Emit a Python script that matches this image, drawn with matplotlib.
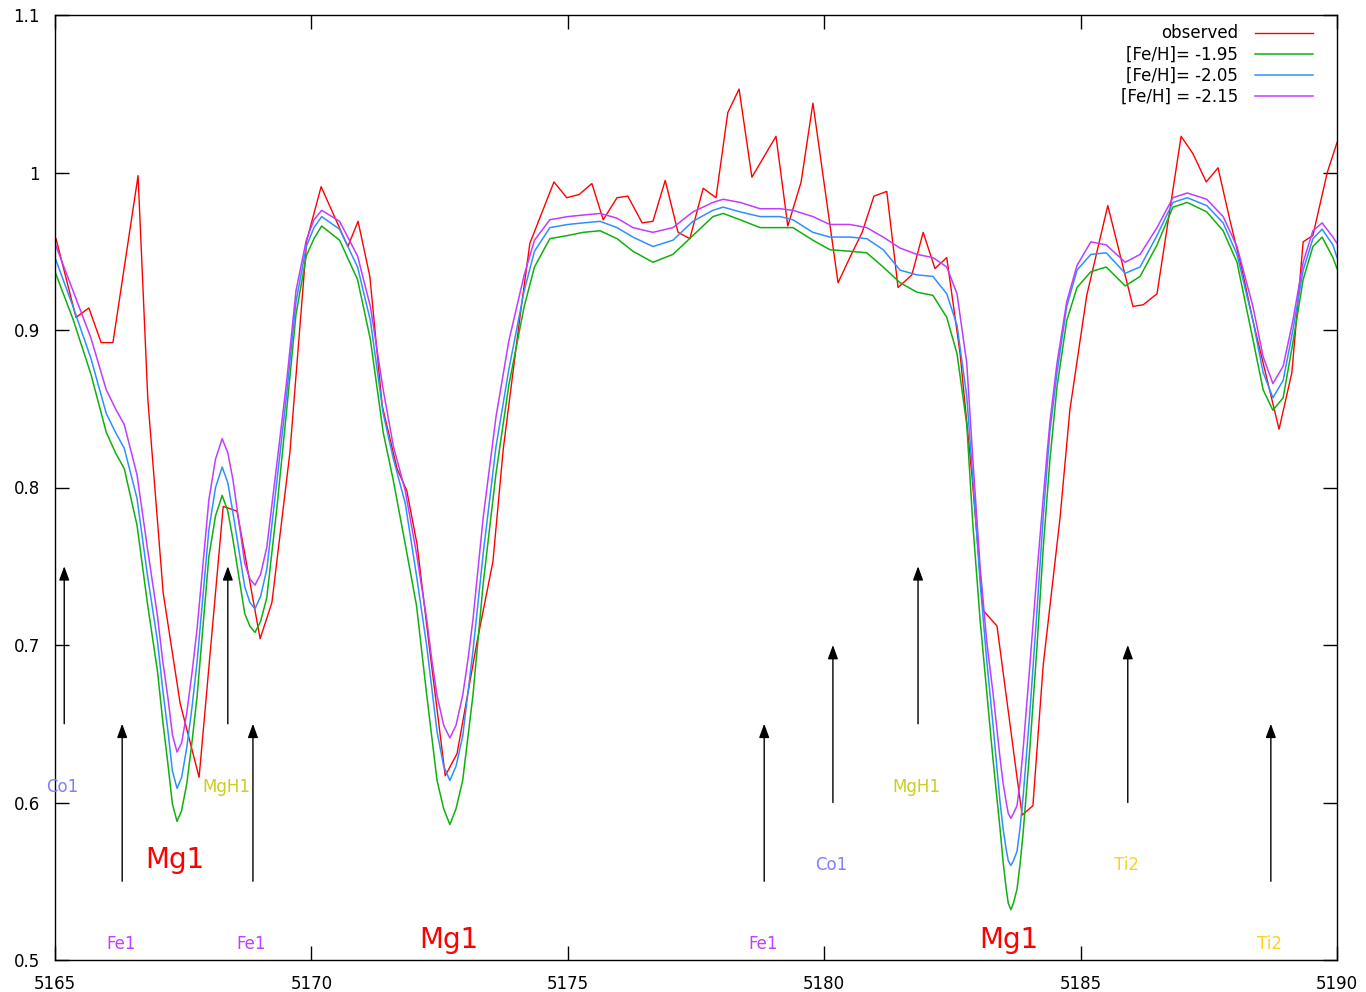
import matplotlib
matplotlib.use("Agg")
import matplotlib.pyplot as plt

# ---------------- data ----------------
obs_wave = [5165.02, 5165.41, 5165.66, 5165.90, 5166.13, 5166.62, 5166.81, 5167.11, 5167.44, 5167.81,
            5168.28, 5168.55, 5169.00, 5169.23, 5169.58, 5169.91, 5170.19, 5170.71, 5170.91, 5171.14,
            5171.38, 5171.67, 5171.86, 5172.06, 5172.31, 5172.61, 5172.84, 5173.23, 5173.54, 5173.74,
            5174.07, 5174.26, 5174.73, 5174.98, 5175.22, 5175.47, 5175.69, 5175.96, 5176.17, 5176.45,
            5176.66, 5176.90, 5177.15, 5177.38, 5177.64, 5177.89, 5178.12, 5178.34, 5178.59, 5179.06,
            5179.29, 5179.55, 5179.78, 5180.27, 5180.50, 5180.74, 5180.97, 5181.22, 5181.44, 5181.71,
            5181.93, 5182.16, 5182.39, 5182.65, 5182.88, 5183.10, 5183.37, 5183.76, 5183.86, 5184.07,
            5184.27, 5184.60, 5184.79, 5185.12, 5185.53, 5186.02, 5186.22, 5186.49, 5186.96, 5187.19,
            5187.45, 5187.68, 5187.91, 5188.15, 5188.36, 5188.87, 5189.12, 5189.34, 5189.53, 5189.81,
            5190.00]
obs_flux = [0.958, 0.908, 0.914, 0.892, 0.892, 0.998, 0.856, 0.733, 0.663, 0.616,
            0.788, 0.785, 0.704, 0.727, 0.822, 0.957, 0.991, 0.953, 0.969, 0.934,
            0.852, 0.812, 0.798, 0.764, 0.696, 0.617, 0.631, 0.702, 0.753, 0.824,
            0.909, 0.955, 0.994, 0.984, 0.986, 0.993, 0.970, 0.984, 0.985, 0.968,
            0.969, 0.995, 0.962, 0.958, 0.990, 0.984, 1.038, 1.053, 0.997, 1.023,
            0.966, 0.994, 1.044, 0.930, 0.946, 0.962, 0.985, 0.988, 0.927, 0.935,
            0.962, 0.939, 0.946, 0.885, 0.808, 0.722, 0.712, 0.616, 0.592, 0.598,
            0.687, 0.781, 0.849, 0.922, 0.979, 0.915, 0.916, 0.923, 1.023, 1.012,
            0.994, 1.003, 0.970, 0.938, 0.906, 0.837, 0.873, 0.956, 0.960, 1.000,
            1.019]

model_wave = [5165.00, 5165.35, 5165.70, 5166.00, 5166.18, 5166.35, 5166.60, 5166.80, 5167.00, 5167.10,
              5167.20, 5167.29, 5167.38, 5167.47, 5167.57, 5167.67, 5167.77, 5168.00, 5168.13, 5168.26,
              5168.37, 5168.47, 5168.70, 5168.80, 5168.90, 5169.01, 5169.13, 5169.33, 5169.52, 5169.70,
              5169.90, 5170.05,
              5170.20, 5170.55, 5170.90, 5171.15, 5171.40, 5171.60, 5171.83, 5172.05, 5172.25, 5172.35,
              5172.45, 5172.58, 5172.70, 5172.82, 5172.95, 5173.05, 5173.15, 5173.35, 5173.60, 5173.85,
              5174.15,
              5174.35, 5174.65, 5175.00, 5175.30, 5175.63, 5175.96, 5176.27, 5176.66, 5177.05, 5177.44,
              5177.83, 5178.03, 5178.36, 5178.75, 5179.14, 5179.39, 5179.78, 5180.11, 5180.50, 5180.83,
              5181.15, 5181.48, 5181.81, 5182.12,
              5182.39, 5182.59, 5182.78, 5182.90, 5183.04, 5183.17, 5183.29, 5183.43, 5183.49, 5183.55,
              5183.59, 5183.64, 5183.69, 5183.76, 5183.82, 5183.88, 5184.01, 5184.15, 5184.27, 5184.40,
              5184.54, 5184.73, 5184.93,
              5185.20, 5185.50, 5185.87, 5186.16, 5186.49, 5186.80, 5187.08, 5187.46, 5187.78, 5188.05,
              5188.36, 5188.56, 5188.75, 5188.95, 5189.14, 5189.34, 5189.53, 5189.71, 5189.92, 5190.00]

flux_feh_195 = [0.937, 0.907, 0.872, 0.835, 0.822, 0.812, 0.776, 0.727, 0.683, 0.652,
                0.625, 0.599, 0.588, 0.595, 0.612, 0.638, 0.667, 0.756, 0.782, 0.795,
                0.785, 0.767, 0.720, 0.712, 0.708, 0.715, 0.730, 0.788, 0.850, 0.910,
                0.947, 0.958,
                0.966, 0.957, 0.932, 0.894, 0.835, 0.804, 0.764, 0.725, 0.668, 0.641,
                0.614, 0.596, 0.586, 0.596, 0.614, 0.641, 0.668, 0.739, 0.809, 0.865,
                0.915,
                0.940, 0.958, 0.960, 0.962, 0.963, 0.958, 0.950, 0.943, 0.948, 0.960,
                0.972, 0.974, 0.970, 0.965, 0.965, 0.965, 0.957, 0.951, 0.950, 0.949,
                0.940, 0.930, 0.924, 0.922,
                0.908, 0.885, 0.840, 0.776, 0.716, 0.670, 0.628, 0.583, 0.562, 0.545,
                0.536, 0.532, 0.536, 0.545, 0.561, 0.581, 0.634, 0.699, 0.761, 0.817,
                0.864, 0.906, 0.927,
                0.937, 0.940, 0.928, 0.934, 0.954, 0.978, 0.981, 0.975, 0.963, 0.943,
                0.894, 0.862, 0.849, 0.857, 0.892, 0.932, 0.953, 0.959, 0.946, 0.939]

flux_feh_205 = [0.946, 0.915, 0.882, 0.847, 0.835, 0.825, 0.793, 0.745, 0.702, 0.672,
                0.646, 0.620, 0.609, 0.616, 0.635, 0.660, 0.689, 0.773, 0.800, 0.813,
                0.803, 0.784, 0.737, 0.727, 0.723, 0.731, 0.748, 0.805, 0.860, 0.918,
                0.953, 0.965,
                0.972, 0.964, 0.940, 0.906, 0.847, 0.818, 0.790, 0.744, 0.699, 0.672,
                0.645, 0.623, 0.614, 0.623, 0.642, 0.669, 0.696, 0.758, 0.826, 0.875,
                0.925,
                0.950, 0.965, 0.967, 0.968, 0.969, 0.965, 0.959, 0.953, 0.957, 0.969,
                0.976, 0.978, 0.975, 0.972, 0.972, 0.970, 0.962, 0.959, 0.959, 0.958,
                0.951, 0.938, 0.935, 0.934,
                0.923, 0.903, 0.858, 0.805, 0.740, 0.690, 0.650, 0.600, 0.583, 0.570,
                0.563, 0.560, 0.563, 0.569, 0.584, 0.604, 0.657, 0.722, 0.781, 0.835,
                0.873, 0.915, 0.938,
                0.948, 0.949, 0.936, 0.940, 0.960, 0.981, 0.984, 0.979, 0.968, 0.948,
                0.906, 0.873, 0.857, 0.868, 0.900, 0.938, 0.958, 0.964, 0.954, 0.946]

flux_feh_215 = [0.955, 0.925, 0.895, 0.862, 0.850, 0.840, 0.808, 0.762, 0.718, 0.690,
                0.667, 0.643, 0.632, 0.638, 0.657, 0.682, 0.710, 0.792, 0.818, 0.831,
                0.822, 0.805, 0.752, 0.742, 0.738, 0.745, 0.762, 0.816, 0.868, 0.925,
                0.957, 0.970,
                0.976, 0.969, 0.947, 0.915, 0.862, 0.826, 0.798, 0.758, 0.716, 0.690,
                0.668, 0.649, 0.641, 0.649, 0.668, 0.690, 0.716, 0.781, 0.845, 0.893,
                0.935,
                0.957, 0.970, 0.972, 0.973, 0.974, 0.971, 0.965, 0.962, 0.965, 0.975,
                0.981, 0.983, 0.981, 0.977, 0.977, 0.976, 0.972, 0.967, 0.967, 0.965,
                0.959, 0.952, 0.948, 0.946,
                0.940, 0.923, 0.879, 0.817, 0.750, 0.702, 0.670, 0.628, 0.612, 0.600,
                0.593, 0.590, 0.593, 0.598, 0.613, 0.634, 0.687, 0.746, 0.793, 0.841,
                0.879, 0.918, 0.941,
                0.956, 0.954, 0.943, 0.948, 0.965, 0.984, 0.987, 0.983, 0.972, 0.953,
                0.915, 0.883, 0.866, 0.877, 0.906, 0.943, 0.963, 0.968, 0.959, 0.955]

series_labels = ["observed", "[Fe/H]= -1.95", "[Fe/H]= -2.05", "[Fe/H] = -2.15"]

line_wave = [5165.18, 5166.31, 5168.37, 5168.86, 5178.83, 5180.17, 5181.83, 5185.92, 5188.71]
line_base = [0.65, 0.55, 0.65, 0.55, 0.55, 0.60, 0.65, 0.60, 0.55]
line_tip = [0.75, 0.65, 0.75, 0.65, 0.65, 0.70, 0.75, 0.70, 0.65]
line_names = ["Co1", "Fe1", "MgH1", "Fe1", "Fe1", "Co1", "MgH1", "Ti2", "Ti2"]
line_label_y = [0.61, 0.51, 0.61, 0.51, 0.51, 0.56, 0.61, 0.56, 0.51]

mg_wave = [5167.34, 5172.68, 5183.60]
mg_y = [0.5635, 0.513, 0.513]
mg_name = "Mg1"

xticks = [5165, 5170, 5175, 5180, 5185, 5190]
yticks = [0.5, 0.6, 0.7, 0.8, 0.9, 1.0, 1.1]
ytick_labels = ["0.5", "0.6", "0.7", "0.8", "0.9", "1", "1.1"]

# ---------------- style ----------------
species_colors = {"Co1": "#8080ff", "Fe1": "#c040ff", "MgH1": "#cccc22", "Ti2": "#ffd020"}
c_obs, c_195, c_205, c_215 = "#ff0000", "#10b010", "#2f8fff", "#c03cff"

plt.rcParams['font.family'] = ['DejaVu Sans']
fig = plt.figure(figsize=(13.66, 9.92), dpi=100)
ax = fig.add_axes([55/1366, 32/992, 1282/1366, 945/992])

ax.plot(obs_wave, obs_flux, color=c_obs, lw=1.0, label=series_labels[0])
ax.plot(model_wave, flux_feh_195, color=c_195, lw=1.1, label=series_labels[1])
ax.plot(model_wave, flux_feh_205, color=c_205, lw=1.1, label=series_labels[2])
ax.plot(model_wave, flux_feh_215, color=c_215, lw=1.1, label=series_labels[3])

for xw, yb, yt, nm, ly in zip(line_wave, line_base, line_tip, line_names, line_label_y):
    ax.annotate("", xy=(xw, yt), xytext=(xw, yb),
                arrowprops=dict(arrowstyle="-|>,head_length=0.6,head_width=0.22",
                                color="black", lw=1.0, mutation_scale=14,
                                shrinkA=0, shrinkB=0))
    ax.text(xw - 0.03, ly, nm, color=species_colors[nm], fontsize=12,
            ha="center", va="center")

for xw, yy in zip(mg_wave, mg_y):
    ax.text(xw, yy, mg_name, color="#ff0000", fontsize=20, ha="center", va="center")

ax.set_xlim(5165, 5190)
ax.set_ylim(0.5, 1.1)
ax.set_xticks(xticks)
ax.set_xticklabels([str(t) for t in xticks])
ax.set_yticks(yticks)
ax.set_yticklabels(ytick_labels)
ax.tick_params(direction="in", length=10, width=1, top=True, right=True,
               labelsize=12, pad=11)
for s in ax.spines.values():
    s.set_linewidth(1.0)

leg = ax.legend(loc="upper right", bbox_to_anchor=(0.9813, 0.990),
                frameon=False, markerfirst=False, fontsize=12,
                handlelength=3.5, handletextpad=1.0, labelspacing=0.19,
                borderpad=0, borderaxespad=0)

fig.savefig("out.png", dpi=100)
